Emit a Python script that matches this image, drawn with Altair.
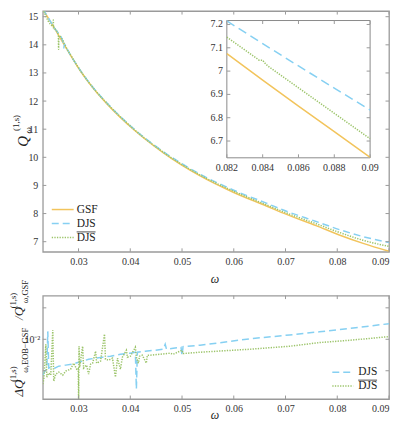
import altair as alt
import pandas as pd

# ---------------- values ----------------
# top panel (main axes): omega vs Q_omega^(1,s)
w_gsf = [0.0231, 0.0253, 0.0279, 0.0304, 0.0330, 0.0355, 0.0407, 0.0464,
         0.0535, 0.0600, 0.0663, 0.0702, 0.0759, 0.0804, 0.0850, 0.0900]
q_gsf = [15.27, 14.60, 13.80, 13.06, 12.42, 11.90, 10.98, 10.16,
         9.34, 8.75, 8.27, 7.97, 7.57, 7.24, 6.94, 6.66]
w_djs = [0.0231, 0.0253, 0.0271, 0.02718, 0.02725, 0.0279, 0.0304, 0.0330,
         0.0355, 0.0407, 0.0464, 0.0535, 0.0600, 0.0663, 0.0702, 0.0759,
         0.0804, 0.0850, 0.0900]
q_djs = [15.28, 14.61, 14.05, 13.88, 14.02, 13.81, 13.08, 12.44,
         11.93, 11.01, 10.20, 9.40, 8.83, 8.37, 8.08, 7.72,
         7.43, 7.18, 6.97]
w_djsb = [0.0231, 0.0251, 0.02513, 0.02516, 0.0252, 0.0253, 0.0261, 0.02615,
          0.0262, 0.0279, 0.0304, 0.0330, 0.0355, 0.0407, 0.0464, 0.0535,
          0.0600, 0.0663, 0.0702, 0.0759, 0.0804, 0.0850, 0.0900]
q_djsb = [15.28, 14.67, 14.88, 14.58, 14.64, 14.61, 14.35, 13.84,
          14.32, 13.81, 13.07, 12.43, 11.92, 11.00, 10.18, 9.37,
          8.79, 8.31, 8.02, 7.64, 7.33, 7.05, 6.83]

# inset
wi_gsf = [0.082, 0.084, 0.086, 0.088, 0.090]
qi_gsf = [7.075, 6.961, 6.850, 6.740, 6.630]
wi_djs = [0.082, 0.084, 0.086, 0.088, 0.090]
qi_djs = [7.215, 7.118, 7.022, 6.927, 6.833]
wi_djsb = [0.082, 0.0837, 0.0838, 0.0840, 0.0841, 0.0843, 0.086, 0.088, 0.090]
qi_djsb = [7.146, 7.053, 7.047, 7.047, 7.036, 7.021, 6.928, 6.819, 6.710]

# bottom panel: relative difference (log axis)
wb_djs = [0.02310, 0.02348, 0.02387, 0.02406, 0.02425, 0.02464, 0.02540, 0.02618,
          0.02752, 0.02887, 0.03002, 0.03079, 0.03195, 0.03330, 0.03464, 0.03618,
          0.03810, 0.04002, 0.04098, 0.04118, 0.04137, 0.04290, 0.04483, 0.04640,
          0.04675, 0.04700, 0.04829, 0.04980, 0.05000, 0.05020, 0.05348, 0.06310,
          0.07080, 0.07656, 0.08233, 0.09000]
rb_djs = [0.00454, 0.00496, 0.00518, 0.01190, 0.00530, 0.00541, 0.00530, 0.00553,
          0.00566, 0.00578, 0.00604, 0.00617, 0.00645, 0.00659, 0.00674, 0.00689,
          0.00720, 0.00736, 0.00752, 0.00334, 0.00752, 0.00769, 0.00786, 0.00803,
          0.00896, 0.00803, 0.00821, 0.00840, 0.00700, 0.00850, 0.00877, 0.01010,
          0.01100, 0.01180, 0.01270, 0.01410]
wb_djsb = [0.02310, 0.02329, 0.02348, 0.02368, 0.02387, 0.02425, 0.02464, 0.02502,
           0.02521, 0.02560, 0.02618, 0.02695, 0.02752, 0.02848, 0.02906, 0.02964,
           0.02995, 0.03002, 0.03010, 0.03021, 0.03079, 0.03098, 0.03156, 0.03195,
           0.03233, 0.03272, 0.03330, 0.03350, 0.03425, 0.03502, 0.03521, 0.03580,
           0.03656, 0.03714, 0.03753, 0.03810, 0.03848, 0.03925, 0.03945, 0.04002,
           0.04098, 0.04118, 0.04156, 0.04180, 0.04233, 0.04310, 0.04330, 0.04387,
           0.04579, 0.04771, 0.04829, 0.05000, 0.05020, 0.05348, 0.06310, 0.07080,
           0.07656, 0.08233, 0.09000]
rb_djsb = [0.00373, 0.00416, 0.00591, 0.00896, 0.00435, 0.00475, 0.00454, 0.01220,
           0.00398, 0.00464, 0.00485, 0.00454, 0.00496, 0.00518, 0.00591, 0.00518,
           0.00530, 0.00246, 0.00858, 0.00541, 0.00858, 0.00530, 0.00566, 0.00464,
           0.00578, 0.00591, 0.00769, 0.00591, 0.00617, 0.01120, 0.00645, 0.00631,
           0.00659, 0.00435, 0.00659, 0.00518, 0.00674, 0.00786, 0.00674, 0.00689,
           0.00839, 0.00674, 0.00591, 0.00689, 0.00704, 0.00591, 0.00704, 0.00704,
           0.00720, 0.00736, 0.00720, 0.00786, 0.00730, 0.00752, 0.00803, 0.00858,
           0.00930, 0.00978, 0.01060]

# ticks / labels
x_ticks = [0.03, 0.04, 0.05, 0.06, 0.07, 0.08, 0.09]
q_ticks = [7, 8, 9, 10, 11, 12, 13, 14, 15]
inset_x_ticks = [0.082, 0.084, 0.086, 0.088, 0.090]
inset_x_labels = ["0.082", "0.084", "0.086", "0.088", "0.09"]
inset_y_ticks = [6.7, 6.8, 6.9, 7.0, 7.1, 7.2]
inset_y_labels = ["6.7", "6.8", "6.9", "7", "7.1", "7.2"]
rel_ticks = [0.005, 0.01, 0.02]

# ---------------- styling ----------------
W, H1, H2 = 348, 242, 104
SERIF = "Liberation Serif, Times New Roman, serif"
C_GSF = "#F2C45C"
C_DJS = "#86D0F2"
C_DJSB = "#9CC46A"
FRAME = "#9a9a9a"
LAB = "#333333"
DASH = [7, 4]
DOT = [1.3, 1.3]

xs_main = alt.Scale(domain=[0.0231, 0.09], nice=False, zero=False)
ys_main = alt.Scale(domain=[6.64, 15.2], nice=False, zero=False)
xs_in = alt.Scale(domain=[0.082, 0.09], range=[185, 329], nice=False, zero=False)
ys_in = alt.Scale(domain=[6.628, 7.217], range=[147.5, 9.5], nice=False, zero=False)
ys_rel = alt.Scale(type="log", domain=[0.00268, 0.0262], nice=False)


def ax(values, fmt=None, pad=5, expr=None):
    kw = dict(values=values, title=None, ticks=False, domain=False, grid=False,
              labelPadding=pad, labelFont=SERIF, labelFontSize=10, labelColor=LAB)
    if fmt:
        kw["format"] = fmt
    if expr:
        kw["labelExpr"] = expr
    return alt.Axis(**kw)


ax_x_top = ax(x_ticks, ".2f", 5)
ax_y_top = ax(q_ticks, "d", 5)
ax_x_bot = ax(x_ticks, ".2f", 5)
ax_y_bot = ax(rel_ticks, None, 3, "abs(datum.value - 0.01) < 1e-7 ? '10⁻²' : ''")


def sdf(w, v):
    return pd.DataFrame({"w": w, "v": v, "i": list(range(len(w)))})


def line(w, v, color, xs, ys, xa, ya, dash=None, interp="linear"):
    kw = dict(color=color, strokeWidth=1.5, clip=True, interpolate=interp)
    if dash:
        kw["strokeDash"] = dash
    return alt.Chart(sdf(w, v)).mark_line(**kw).encode(
        x=alt.X("w:Q", scale=xs, axis=xa),
        y=alt.Y("v:Q", scale=ys, axis=ya),
        order=alt.Order("i:Q"),
    )


def xticks(vals, xs, xa, ybot, ytop):
    d = pd.DataFrame({"t": vals})
    b = alt.Chart(d).mark_rule(color=FRAME, strokeWidth=1).encode(
        x=alt.X("t:Q", scale=xs, axis=xa), y=alt.value(ybot), y2=alt.value(ybot - 3.5))
    t = alt.Chart(d).mark_rule(color=FRAME, strokeWidth=1).encode(
        x=alt.X("t:Q", scale=xs, axis=xa), y=alt.value(ytop), y2=alt.value(ytop + 3.5))
    return [b, t]


def yticks(vals, ys, ya, xl, xr):
    d = pd.DataFrame({"t": vals})
    l = alt.Chart(d).mark_rule(color=FRAME, strokeWidth=1).encode(
        y=alt.Y("t:Q", scale=ys, axis=ya), x=alt.value(xl), x2=alt.value(xl + 3.5))
    r = alt.Chart(d).mark_rule(color=FRAME, strokeWidth=1).encode(
        y=alt.Y("t:Q", scale=ys, axis=ya), x=alt.value(xr), x2=alt.value(xr - 3.5))
    return [l, r]


one = pd.DataFrame({"a": [0]})


def txt(s, x, y, size=11, style="normal", angle=0, align="center", baseline="middle"):
    return alt.Chart(one).mark_text(text=s, font=SERIF, fontSize=size, fontStyle=style,
                                    angle=angle, align=align, baseline=baseline,
                                    color="#222222").encode(x=alt.value(x), y=alt.value(y))


def seg(x1, x2, y, color, dash=None, width=1.5):
    kw = dict(color=color, strokeWidth=width)
    if dash:
        kw["strokeDash"] = dash
    return alt.Chart(one).mark_rule(**kw).encode(x=alt.value(x1), x2=alt.value(x2), y=alt.value(y))


def marker(x, y1, y2):
    return alt.Chart(one).mark_rule(stroke="white", strokeOpacity=0, strokeWidth=0.01).encode(
        x=alt.value(x), y=alt.value(y1), y2=alt.value(y2))


# ---------------- top panel ----------------
main = alt.layer(
    line(w_gsf, q_gsf, C_GSF, xs_main, ys_main, ax_x_top, ax_y_top, None, "monotone"),
    line(w_djs, q_djs, C_DJS, xs_main, ys_main, ax_x_top, ax_y_top, DASH, "monotone"),
    line(w_djsb, q_djsb, C_DJSB, xs_main, ys_main, ax_x_top, ax_y_top, DOT, "monotone"),
    *xticks(x_ticks, xs_main, ax_x_top, H1, 0),
    *yticks(q_ticks, ys_main, ax_y_top, 0, W),
)

inset = alt.layer(
    alt.Chart(one).mark_rect(fill="white", stroke="#8a8a8a", strokeWidth=1).encode(
        x=alt.value(185), x2=alt.value(329), y=alt.value(9.5), y2=alt.value(147.5)),
    line(wi_gsf, qi_gsf, C_GSF, xs_in, ys_in, None, None),
    line(wi_djs, qi_djs, C_DJS, xs_in, ys_in, None, None, [9, 5]),
    line(wi_djsb, qi_djsb, C_DJSB, xs_in, ys_in, None, None, DOT),
    *xticks(inset_x_ticks, xs_in, None, 147.5, 9.5),
    *yticks(inset_y_ticks, ys_in, None, 185, 329),
    alt.Chart(pd.DataFrame({"t": inset_x_ticks, "lab": inset_x_labels})).mark_text(
        font=SERIF, fontSize=10, color=LAB, baseline="middle").encode(
        x=alt.X("t:Q", scale=xs_in, axis=None), y=alt.value(157.5), text="lab:N"),
    alt.Chart(pd.DataFrame({"t": inset_y_ticks, "lab": inset_y_labels})).mark_text(
        font=SERIF, fontSize=10, color=LAB, align="right", baseline="middle").encode(
        y=alt.Y("t:Q", scale=ys_in, axis=None), x=alt.value(181), text="lab:N"),
)

deco_top = alt.layer(
    seg(9, 31, 199.5, C_GSF),
    seg(9, 31, 213.5, C_DJS, DASH),
    seg(9, 31, 227.5, C_DJSB, DOT),
    txt("GSF", 34, 200, 11.5, align="left"),
    txt("DJS", 34, 214, 11.5, align="left"),
    txt("DJS", 34, 228, 11.5, align="left"),
    seg(34, 53, 222, "#222222", None, 0.8),
    txt("Q", -19.5, 131, 15, "italic", 270),
    txt("(1,s)", -27, 112.5, 9, "normal", 270),
    txt("ω", -15, 120, 9, "italic", 270),
    marker(-34, -0.5, 258.5),
)

top = alt.layer(main, inset, deco_top).resolve_scale(
    x="independent", y="independent").properties(width=W, height=H1)

# ---------------- bottom panel ----------------
bot_main = alt.layer(
    line(wb_djs, rb_djs, C_DJS, xs_main, ys_rel, ax_x_bot, ax_y_bot, DASH),
    line(wb_djsb, rb_djsb, C_DJSB, xs_main, ys_rel, ax_x_bot, ax_y_bot, DOT),
    *xticks(x_ticks, xs_main, ax_x_bot, H2, 0),
    *yticks(rel_ticks, ys_rel, ax_y_bot, 0, W),
)

deco_bot = alt.layer(
    seg(291, 312, 77, C_DJS, DASH),
    seg(291, 312, 91, C_DJSB, DOT),
    txt("DJS", 317, 77, 11.5, align="left"),
    txt("DJS", 317, 91, 11.5, align="left"),
    seg(317, 336, 85, "#222222", None, 0.8),
    txt("ω", 173, -17, 12, "italic"),
    txt("ω", 173, 120, 12, "italic"),
    txt("ΔQ", -23.5, 93, 13, "italic", 270),
    txt("(1,s)", -29.5, 79, 8.5, "normal", 270),
    txt("ω,EOB−GSF", -18, 55, 8.5, "normal", 270),
    txt("/Q", -23.5, 18, 13, "italic", 270),
    txt("(1,s)", -29.5, 5, 8.5, "normal", 270),
    txt("ω,GSF", -18, -4, 8.5, "normal", 270),
    marker(-34, -25, 0),
)

bottom = alt.layer(bot_main, deco_bot).properties(width=W, height=H2)

chart = alt.vconcat(top, bottom, spacing=0).properties(
    padding={"left": 0, "top": 0, "right": 0, "bottom": 0}
).configure_view(stroke=FRAME, strokeWidth=1.3)

chart.save("out.html", embed_options={"renderer": "svg", "actions": False})
